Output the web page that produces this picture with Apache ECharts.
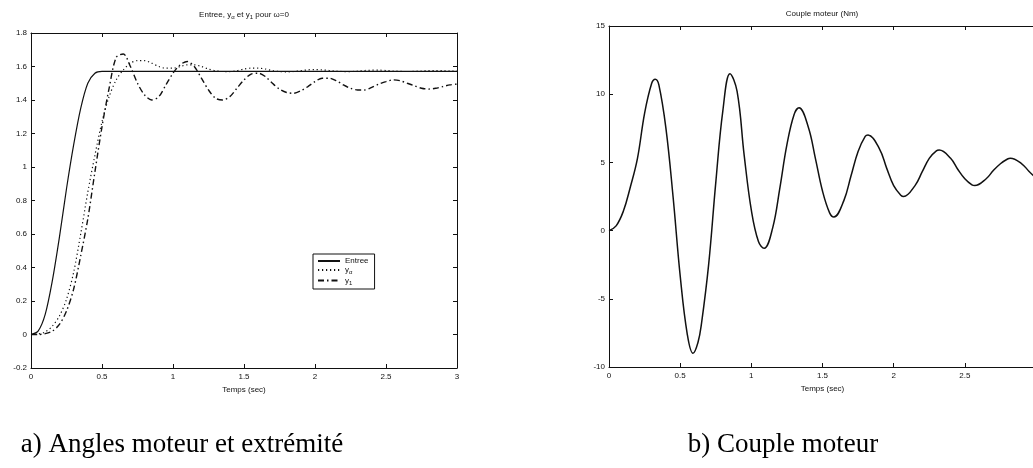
<!DOCTYPE html>
<html>
<head>
<meta charset="utf-8">
<script src="https://cdn.jsdelivr.net/npm/echarts@6/dist/echarts.min.js"></script>
<style>
  html, body { margin: 0; padding: 0; background: #fff; }
  #chart { width: 1033px; height: 468px; }
</style>
</head>
<body>
<div id="chart"></div>
<script>
// Left panel: commanded input and the two output angles (rad) over time (s)
const tLeft = [0,0.05,0.1,0.15,0.2,0.25,0.3,0.35,0.4,0.45,0.5,0.55,0.6,0.65,0.7,0.75,0.8,0.85,0.9,0.95,
  1,1.05,1.1,1.15,1.2,1.25,1.3,1.35,1.4,1.45,1.5,1.55,1.6,1.65,1.7,1.75,1.8,1.85,1.9,1.95,
  2,2.05,2.1,2.15,2.2,2.25,2.3,2.35,2.4,2.45,2.5,2.55,2.6,2.65,2.7,2.75,2.8,2.85,2.9,2.95,3];
const entree = [0,0.02,0.12,0.32,0.58,0.87,1.13,1.35,1.50,1.56,1.571,1.571,1.571,1.571,1.571,1.571,1.571,1.571,1.571,1.571,
  1.571,1.571,1.571,1.571,1.571,1.571,1.571,1.571,1.571,1.571,1.571,1.571,1.571,1.571,1.571,1.571,1.571,1.571,1.571,1.571,
  1.571,1.571,1.571,1.571,1.571,1.571,1.571,1.571,1.571,1.571,1.571,1.571,1.571,1.571,1.571,1.571,1.571,1.571,1.571,1.571,1.571];
const yAlpha = [0,0.003,0.015,0.05,0.11,0.21,0.37,0.60,0.85,1.07,1.27,1.42,1.52,1.58,1.62,1.635,1.635,1.62,1.60,1.59,
  1.59,1.60,1.61,1.61,1.60,1.585,1.575,1.57,1.57,1.575,1.585,1.59,1.59,1.585,1.575,1.57,1.568,1.57,1.575,1.58,
  1.582,1.58,1.576,1.572,1.57,1.57,1.572,1.576,1.578,1.578,1.576,1.573,1.571,1.57,1.571,1.573,1.575,1.576,1.575,1.573,1.572];
const y1 = [0,0,0.005,0.02,0.06,0.14,0.27,0.47,0.69,0.97,1.24,1.47,1.655,1.675,1.60,1.50,1.43,1.40,1.42,1.49,
  1.56,1.61,1.63,1.60,1.53,1.46,1.41,1.40,1.42,1.47,1.52,1.555,1.56,1.54,1.50,1.465,1.445,1.44,1.455,1.48,
  1.51,1.53,1.53,1.515,1.49,1.47,1.46,1.46,1.475,1.495,1.51,1.52,1.515,1.50,1.485,1.47,1.465,1.47,1.48,1.49,1.495];

// Right panel: motor torque (Nm) over time (s)
const tRight = [0,0.05,0.1,0.15,0.2,0.25,0.3,0.325,0.35,0.4,0.45,0.5,0.55,0.59,0.625,0.65,0.7,0.75,0.8,0.85,
  0.9,0.95,1.0,1.05,1.09,1.15,1.2,1.25,1.3,1.335,1.4,1.45,1.5,1.55,1.58,1.65,1.7,1.75,1.8,1.82,
  1.9,1.95,2.0,2.05,2.07,2.15,2.2,2.25,2.3,2.32,2.4,2.45,2.5,2.55,2.57,2.65,2.7,2.75,2.8,2.82,2.9,2.95,3.0];
const couple = [0,0.35,1.4,3.2,5.3,8.6,10.8,11.1,10.7,7.5,2.5,-3.3,-7.6,-9.0,-8.2,-6.8,-2.5,3.5,8.8,11.5,
  10.2,5.5,1.5,-0.8,-1.3,0.2,3.1,6.3,8.5,9.0,7.6,5.3,2.9,1.3,1.0,2.2,4.0,5.8,6.9,7.0,
  6.0,4.6,3.3,2.6,2.5,3.3,4.3,5.3,5.85,5.9,5.3,4.5,3.8,3.35,3.3,3.8,4.4,4.9,5.25,5.3,4.9,4.35,3.85];

// Axis ticks
const xTicks = { min: 0, max: 3, interval: 0.5 };
const yTicksLeft = { min: -0.2, max: 1.8, interval: 0.2 };
const yTicksRight = { min: -10, max: 15, interval: 5 };

const pairs = (ts, vs) => ts.map((t, i) => [t, vs[i]]);

const INK = '#111';
const AXIS_FONT = 'Liberation Sans, Arial, sans-serif';
const CAPTION_FONT = 'Liberation Serif, DejaVu Serif, serif';
const sub = { s: { fontSize: 6, fontFamily: AXIS_FONT, color: INK, padding: [5, 0, 0, 0] } };

function xAx(grid, pos, labels) {
  return {
    type: 'value', gridIndex: grid, position: pos, ...xTicks,
    axisLine: { show: true, onZero: false, lineStyle: { color: INK, width: 1 } },
    axisTick: { show: true, inside: true, length: 4, lineStyle: { color: INK } },
    axisLabel: { show: labels, fontSize: 8, color: INK, fontFamily: AXIS_FONT, margin: 5 },
    splitLine: { show: false },
    name: labels ? 'Temps (sec)' : '',
    nameLocation: 'middle', nameGap: 15,
    nameTextStyle: { fontSize: 8, color: INK, fontFamily: AXIS_FONT }
  };
}
function yAx(grid, pos, ticks, labels, ticksShown = true) {
  return {
    type: 'value', gridIndex: grid, position: pos, ...ticks,
    axisLine: { show: true, onZero: false, lineStyle: { color: INK, width: 1 } },
    axisTick: { show: ticksShown, inside: true, length: 4, lineStyle: { color: INK } },
    axisLabel: { show: labels, fontSize: 8, color: INK, fontFamily: AXIS_FONT, margin: 4 },
    splitLine: { show: false }
  };
}

const chart = echarts.init(document.getElementById('chart'), null, { renderer: 'canvas' });

chart.setOption({
  animation: false,
  backgroundColor: '#fff',
  grid: [
    { left: 31, top: 33, width: 426, height: 335, outerBoundsMode: 'none', containLabel: false },
    { left: 609, top: 26, width: 427, height: 341, outerBoundsMode: 'none', containLabel: false }
  ],
  xAxis: [xAx(0, 'bottom', true), xAx(0, 'top', false), xAx(1, 'bottom', true), xAx(1, 'top', false)],
  yAxis: [yAx(0, 'left', yTicksLeft, true), yAx(0, 'right', yTicksLeft, false),
          yAx(1, 'left', yTicksRight, true), yAx(1, 'right', yTicksRight, false, false)],
  legend: {
    left: 313, top: 254, orient: 'vertical',
    backgroundColor: '#fff', borderColor: INK, borderWidth: 1,
    padding: [3, 6, 3, 4], itemGap: 1, itemWidth: 22, itemHeight: 10,
    itemStyle: { opacity: 0 },
    data: ['Entree', 'ya', 'y1'],
    formatter: n => n === 'Entree' ? 'Entree' : (n === 'ya' ? 'y{s|α}' : 'y{s|1}'),
    textStyle: { fontSize: 8, color: INK, fontFamily: AXIS_FONT, rich: sub }
  },
  series: [
    { name: 'Entree', type: 'line', xAxisIndex: 0, yAxisIndex: 0, data: pairs(tLeft, entree),
      showSymbol: false, symbol: 'none', smooth: 0.3, lineStyle: { color: INK, width: 1.2, type: 'solid' }, itemStyle: { color: INK } },
    { name: 'ya', type: 'line', xAxisIndex: 0, yAxisIndex: 0, data: pairs(tLeft, yAlpha),
      showSymbol: false, symbol: 'none', smooth: 0.3, lineStyle: { color: INK, width: 1.2, type: [1.2, 2.8] }, itemStyle: { color: INK } },
    { name: 'y1', type: 'line', xAxisIndex: 0, yAxisIndex: 0, data: pairs(tLeft, y1),
      showSymbol: false, symbol: 'none', smooth: 0.3, lineStyle: { color: INK, width: 1.4, type: [6, 3, 1.5, 3] }, itemStyle: { color: INK } },
    { name: 'Couple', type: 'line', xAxisIndex: 2, yAxisIndex: 2, data: pairs(tRight, couple),
      showSymbol: false, symbol: 'none', smooth: 0.4, lineStyle: { color: INK, width: 1.5 }, itemStyle: { color: INK } }
  ],
  graphic: [
    { type: 'text', x: 244, y: 15, style: { text: 'Entree, y{s|α} et y{s|1} pour ω=0', rich: sub,
        fontSize: 8, fontFamily: AXIS_FONT, fill: INK, align: 'center', verticalAlign: 'middle' } },
    { type: 'text', x: 822, y: 14, style: { text: 'Couple moteur (Nm)',
        fontSize: 8, fontFamily: AXIS_FONT, fill: INK, align: 'center', verticalAlign: 'middle' } },
    { type: 'text', x: 182, y: 445, style: { text: 'a) Angles moteur et extrémité',
        fontSize: 27, fontFamily: CAPTION_FONT, fill: '#000', align: 'center', verticalAlign: 'middle' } },
    { type: 'text', x: 783, y: 445, style: { text: 'b) Couple moteur',
        fontSize: 27, fontFamily: CAPTION_FONT, fill: '#000', align: 'center', verticalAlign: 'middle' } }
  ]
});
</script>
</body>
</html>
